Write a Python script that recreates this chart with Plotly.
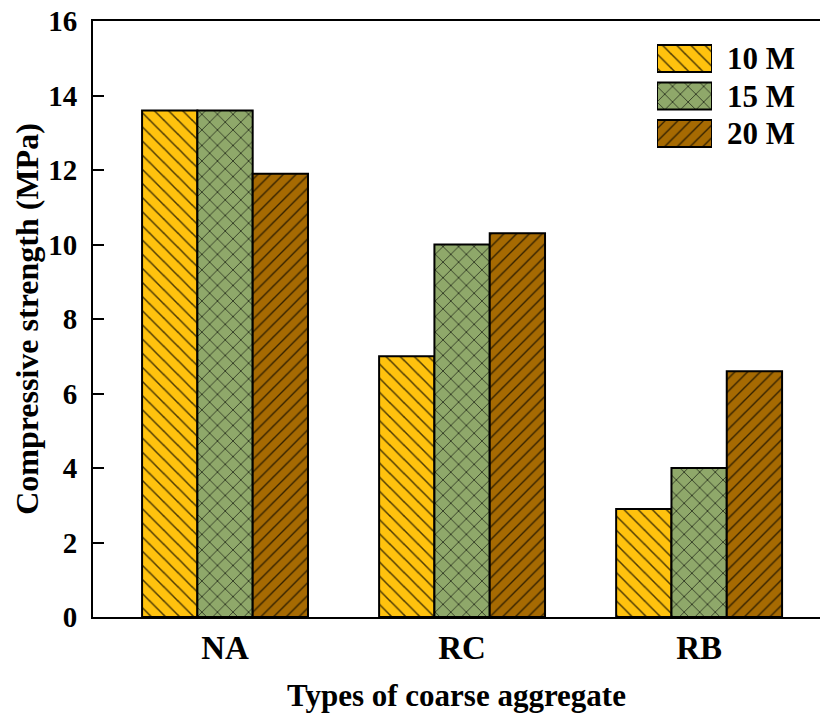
import plotly.graph_objects as go

categories = ["NA", "RC", "RB"]
series_names = ["10 M", "15 M", "20 M"]
values_10m = [13.6, 7.0, 2.9]
values_15m = [13.6, 10.0, 4.0]
values_20m = [11.9, 10.3, 6.6]
y_ticks = [0, 2, 4, 6, 8, 10, 12, 14, 16]

series_values = [values_10m, values_15m, values_20m]
colors = ["#FFC20E", "#8FA86A", "#A66A02"]
shapes = ["\\", "x", "/"]
psizes = [10, 11, 9]

FONT = "Liberation Serif, Times New Roman, serif"
W, H = 820, 716
ML, MR, MT, MB = 93, 0, 21, 99
pw, ph = W - ML - MR, H - MT - MB

def px_x(x):
    return (x - ML) / pw

def px_y(y):
    return (H - MB - y) / ph

fig = go.Figure()
for name, vals, c, s, sz in zip(series_names, series_values, colors, shapes, psizes):
    pat = dict(shape=s, size=sz, solidity=0.15, fgcolor="black", fgopacity=0.7)
    fig.add_trace(go.Bar(
        x=categories, y=vals, name=name, showlegend=False,
        marker=dict(color=c, line=dict(color="black", width=2), pattern=pat),
    ))
    # legend swatch drawn in an inset axis
    fig.add_trace(go.Bar(
        y=[name], x=[1], orientation="h", xaxis="x2", yaxis="y2",
        showlegend=False, width=0.72, offset=-0.36, hoverinfo="skip",
        marker=dict(color=c, line=dict(color="black", width=2), pattern=pat),
    ))

fig.update_layout(
    width=W, height=H,
    margin=dict(l=ML, r=MR, t=MT, b=MB),
    plot_bgcolor="white", paper_bgcolor="white",
    barmode="group", bargap=0.3, bargroupgap=0,
    font=dict(family=FONT, size=30, color="black", weight="bold"),
    xaxis=dict(
        categoryorder="array", categoryarray=categories,
        range=[-0.557, 2.51], showline=True, linecolor="black", linewidth=2,
        mirror=True, ticks="", showgrid=False, zeroline=False,
        tickfont=dict(family=FONT, size=33, weight="bold"),
        title=dict(text="Types of coarse aggregate", standoff=20,
                   font=dict(family=FONT, size=31, weight="bold")),
    ),
    yaxis=dict(
        range=[0, 16], tickvals=y_ticks, ticktext=[str(v) for v in y_ticks],
        showline=True, linecolor="black", linewidth=2, ticks="inside",
        ticklen=11, tickwidth=2, tickcolor="black", showgrid=False,
        zeroline=False, ticklabelstandoff=8,
        tickfont=dict(family=FONT, size=29, weight="bold"),
        title=dict(text="Compressive strength (MPa)", standoff=0,
                   font=dict(family=FONT, size=32, weight="bold")),
    ),
    xaxis2=dict(domain=[px_x(657), px_x(712)], range=[0, 1], anchor="y2",
                visible=False, fixedrange=True),
    yaxis2=dict(domain=[px_y(152.25), px_y(39.75)], anchor="x2",
                categoryorder="array", categoryarray=list(reversed(series_names)),
                side="right", showline=False, ticks="", showgrid=False,
                zeroline=False, ticklabelstandoff=14, fixedrange=True,
                tickfont=dict(family=FONT, size=31, weight="bold")),
)

fig.write_html("out.html")
